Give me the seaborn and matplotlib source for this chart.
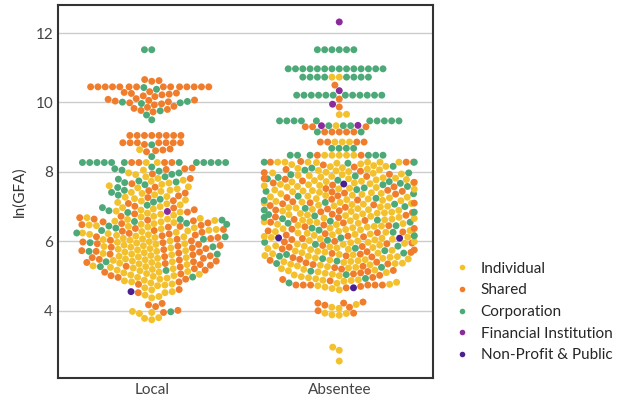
import warnings
import matplotlib
matplotlib.use("Agg")
import matplotlib.pyplot as plt
import pandas as pd
import seaborn as sns

warnings.filterwarnings("ignore")

# ln(GFA) of each property, by owner location and owner type
local_individual = [
    8.27, 8.27, 8.64,
    8.05, 7.97, 7.92, 7.86, 7.81, 7.76, 7.73,
    7.68, 7.64, 7.60, 7.57, 7.54, 7.51, 7.47, 7.44, 7.41,
    7.38, 7.34, 7.29, 7.27, 7.23, 7.19, 7.16, 7.12,
    7.08, 7.05, 7.00, 6.97, 6.93, 6.90, 6.87, 6.84, 6.81,
    6.78, 6.75, 6.72, 6.70, 6.68, 6.66, 6.64, 6.63, 6.60, 6.58, 6.56, 6.54, 6.51,
    6.49, 6.47, 6.45, 6.43, 6.41, 6.39, 6.36, 6.34, 6.32, 6.30, 6.28, 6.26, 6.24, 6.22, 6.20,
    6.19, 6.17, 6.15, 6.13, 6.11, 6.09, 6.07, 6.05, 6.03, 6.01, 5.99, 5.97, 5.95, 5.93, 5.91,
    5.89, 5.87, 5.85, 5.83, 5.81, 5.79, 5.77, 5.75, 5.73, 5.71, 5.69, 5.67, 5.65, 5.63, 5.61,
    5.59, 5.57, 5.55, 5.53, 5.51, 5.49, 5.47, 5.45, 5.43, 5.41, 5.39, 5.37, 5.35, 5.33, 5.31,
    5.29, 5.27, 5.25, 5.23, 5.21, 5.19, 5.17, 5.15, 5.13, 5.11, 5.09, 5.07, 5.05, 5.03, 5.01,
    4.99, 4.96, 4.94, 4.91, 4.88, 4.86, 4.83, 4.80, 4.77, 4.74, 4.72,
    4.66, 4.60, 4.55, 4.52, 4.45, 4.41, 4.37,
    3.98, 3.95, 3.92, 3.80, 3.78, 3.74,
]
local_shared = [
    10.66, 10.63, 10.61,
    10.45, 10.45, 10.45, 10.45, 10.45, 10.45, 10.45,
    10.45, 10.45, 10.45, 10.45, 10.45, 10.45, 10.45,
    10.31, 10.29, 10.27, 10.26, 10.24, 10.22, 10.19, 10.17,
    10.11, 10.09, 10.07, 10.06, 10.04, 10.02, 9.99, 9.96, 9.93,
    9.89, 9.86, 9.83, 9.80, 9.77, 9.73,
    9.05, 9.05, 9.05, 9.05, 9.05, 9.05, 9.05, 9.05,
    8.84, 8.84, 8.84, 8.84, 8.84, 8.84, 8.84, 8.79, 8.66, 8.63, 8.61, 8.58,
    8.27, 8.27, 8.27, 8.27, 8.11, 8.09, 8.07,
    7.94, 7.81, 7.66, 7.56, 7.46, 7.39, 7.31, 7.26, 7.17, 7.09, 7.01, 6.96, 6.91, 6.84, 6.79,
    6.72, 6.68, 6.64, 6.61, 6.59, 6.56, 6.53, 6.51, 6.48, 6.46, 6.43, 6.41,
    6.37, 6.34, 6.31, 6.29, 6.26, 6.23, 6.21, 6.18, 6.16, 6.13, 6.11, 6.08,
    6.06, 6.03, 6.01, 5.98, 5.96, 5.93, 5.91, 5.88, 5.86, 5.83, 5.81, 5.79,
    5.76, 5.73, 5.71, 5.69, 5.66, 5.63, 5.61, 5.58, 5.56, 5.53, 5.51, 5.48,
    5.46, 5.43, 5.41, 5.39, 5.36, 5.33, 5.31, 5.28, 5.26, 5.21, 5.17, 5.11,
    5.06, 5.01, 4.96, 4.91, 4.83, 4.76, 4.61, 4.52, 4.21, 4.17, 4.12, 4.01, 3.95,
]
local_corporation = [
    11.52, 11.52,
    10.43, 10.38, 10.03, 10.01, 9.99, 9.97, 9.76, 9.64, 9.50,
    8.78, 8.44,
    8.27, 8.27, 8.27, 8.27, 8.27, 8.27, 8.27, 8.27, 8.27, 8.27, 8.27, 8.27,
    8.14, 8.09, 8.05, 8.02, 7.97, 7.93, 7.86, 7.79, 7.74, 7.71, 7.69, 7.63,
    7.55, 7.47, 7.41, 7.33, 7.21, 7.13, 7.04, 6.97, 6.88, 6.83,
    6.63, 6.61, 6.57, 6.52, 6.49, 6.44, 6.38, 6.31, 6.24, 6.13, 6.06, 5.96,
    5.84, 5.71, 5.63, 5.41, 5.27, 5.16, 4.97, 3.97,
]
local_financial = [6.86]
local_nonprofit = [4.55]

absentee_individual = [
    10.73, 10.73, 9.66, 9.65, 9.33, 8.86, 8.86, 8.86, 8.48, 8.48, 8.48, 8.48, 8.48,
    8.28, 8.28, 8.28, 8.28, 8.28, 8.28, 8.27, 8.25, 8.23, 8.21, 8.18, 8.16, 8.15, 8.12,
    8.10, 8.08, 8.06, 8.04, 8.03, 8.01,
    7.99, 7.97, 7.96, 7.94, 7.92, 7.90, 7.89, 7.87, 7.85, 7.83, 7.82, 7.80, 7.78, 7.77,
    7.75, 7.73, 7.72, 7.71,
    7.69, 7.68, 7.66, 7.64, 7.63, 7.61, 7.60, 7.58, 7.56, 7.55, 7.53, 7.51, 7.50, 7.48,
    7.46, 7.45, 7.43, 7.41, 7.40,
    7.38, 7.37, 7.35, 7.33, 7.32, 7.30, 7.28, 7.27, 7.25, 7.23, 7.22, 7.20, 7.18, 7.17,
    7.15, 7.13, 7.12, 7.10,
    7.09, 7.07, 7.06, 7.04, 7.02, 7.01, 6.99, 6.97, 6.96, 6.94, 6.92, 6.91, 6.89, 6.87,
    6.86, 6.84, 6.82, 6.81, 6.80,
    6.79, 6.77, 6.76, 6.74, 6.72, 6.71, 6.69, 6.67, 6.66, 6.64, 6.62, 6.61, 6.59, 6.57,
    6.56, 6.54, 6.52, 6.51,
    6.49, 6.48, 6.46, 6.44, 6.43, 6.41, 6.39, 6.38, 6.36, 6.34, 6.33, 6.31, 6.29, 6.28,
    6.26, 6.24, 6.23, 6.21, 6.20,
    6.19, 6.17, 6.16, 6.14, 6.12, 6.11, 6.09, 6.07, 6.06, 6.04, 6.02, 6.01, 5.99, 5.97,
    5.96, 5.94, 5.92, 5.91,
    5.89, 5.87, 5.86, 5.84, 5.82, 5.81, 5.79, 5.77, 5.76, 5.74, 5.72, 5.71, 5.69, 5.67,
    5.66, 5.64, 5.62, 5.61,
    5.59, 5.57, 5.56, 5.54, 5.52, 5.51, 5.49, 5.47, 5.46, 5.44, 5.42, 5.41, 5.39, 5.37,
    5.36, 5.34, 5.32, 5.31,
    5.29, 5.27, 5.25, 5.23, 5.21, 5.19, 5.17, 5.15, 5.12, 5.10, 5.08, 5.05, 5.03, 5.01,
    4.98, 4.95, 4.92, 4.89, 4.88, 4.87, 4.85, 4.82, 4.79, 4.76, 4.72, 4.68, 4.64, 4.60,
    4.18, 4.10, 4.07, 3.93, 3.92, 3.88, 3.87, 2.95, 2.86, 2.55,
]
absentee_shared = [
    10.50, 10.10, 9.87, 9.30, 9.30, 9.30, 9.15, 9.15, 9.15, 9.15, 9.15,
    8.86, 8.86, 8.86, 8.86, 8.48, 8.48,
    8.30, 8.28, 8.28, 8.28, 8.20, 8.14, 8.07, 8.02,
    7.98, 7.93, 7.87, 7.81, 7.79, 7.74, 7.70,
    7.68, 7.62, 7.57, 7.52, 7.47, 7.44, 7.42,
    7.39, 7.36, 7.31, 7.26, 7.21, 7.19, 7.14, 7.11, 7.10,
    7.08, 7.05, 7.03, 6.98, 6.93, 6.90, 6.88, 6.85, 6.83,
    6.78, 6.75, 6.70, 6.68, 6.63, 6.60, 6.55, 6.53,
    6.47, 6.45, 6.42, 6.37, 6.35, 6.30, 6.27, 6.25, 6.22,
    6.18, 6.15, 6.13, 6.08, 6.05, 6.00, 5.98, 5.95, 5.93,
    5.88, 5.85, 5.83, 5.78, 5.75, 5.70, 5.68, 5.65, 5.63,
    5.58, 5.55, 5.53, 5.48, 5.45, 5.40, 5.38, 5.35, 5.33,
    5.28, 5.24, 5.20, 5.16, 5.13, 5.09, 5.06, 5.02,
    4.96, 4.90, 4.86, 4.74, 4.74, 4.74, 4.74, 4.74, 4.74, 4.70, 4.66,
    4.25, 4.22, 4.22, 4.16, 4.10, 4.00, 3.93,
]
absentee_corporation = [
    11.52, 11.52, 11.52, 11.52, 11.52, 11.52,
    10.97, 10.97, 10.97, 10.97, 10.97, 10.97, 10.97,
    10.97, 10.97, 10.97, 10.97, 10.97, 10.97, 10.97,
    10.73, 10.73, 10.73, 10.73, 10.73, 10.73, 10.73, 10.73,
    10.21, 10.21, 10.21, 10.21, 10.21, 10.21, 10.21, 10.21, 10.21, 10.21, 10.21, 10.21,
    9.47, 9.47, 9.47, 9.47, 9.47, 9.47, 9.47, 9.47, 9.47, 9.47,
    9.33, 9.33, 9.33, 9.15, 9.15, 8.68, 8.68, 8.68, 8.68,
    8.48, 8.48, 8.48, 8.48, 8.48, 8.48,
    8.28, 8.28, 8.25, 8.16, 8.11, 8.05,
    7.97, 7.92, 7.88, 7.84, 7.80, 7.76, 7.72,
    7.67, 7.63, 7.58, 7.54, 7.49, 7.44,
    7.37, 7.30, 7.24, 7.18, 7.12,
    7.07, 7.00, 6.95, 6.90, 6.84,
    6.77, 6.73, 6.69, 6.65, 6.61, 6.58, 6.55, 6.52,
    6.45, 6.38, 6.32, 6.26,
    6.16, 6.10, 6.03, 5.97, 5.91,
    5.86, 5.80, 5.73, 5.66, 5.62,
    5.57, 5.50, 5.43, 5.36,
    5.25, 5.14, 5.04, 4.93, 4.80,
]
absentee_financial = [12.32, 10.34, 9.95, 9.34, 9.33]
absentee_nonprofit = [7.65, 6.10, 6.09, 4.66]

locations = ["Local", "Absentee"]
owner_types = ["Individual", "Shared", "Corporation",
               "Financial Institution", "Non-Profit & Public"]
colors = ["#F4C12E", "#F07D2C", "#4DAA78", "#8B2A9D", "#4A2090"]

series = {
    ("Local", "Individual"): local_individual,
    ("Local", "Shared"): local_shared,
    ("Local", "Corporation"): local_corporation,
    ("Local", "Financial Institution"): local_financial,
    ("Local", "Non-Profit & Public"): local_nonprofit,
    ("Absentee", "Individual"): absentee_individual,
    ("Absentee", "Shared"): absentee_shared,
    ("Absentee", "Corporation"): absentee_corporation,
    ("Absentee", "Financial Institution"): absentee_financial,
    ("Absentee", "Non-Profit & Public"): absentee_nonprofit,
}
rows = [(loc, own, v) for (loc, own), vals in series.items() for v in vals]
df = pd.DataFrame(rows, columns=["location", "owner", "lnGFA"])
# interleave owner types so no single colour sits on top of the swarm
df = df.sort_values("lnGFA", kind="stable").reset_index(drop=True)

sns.set_theme(style="whitegrid")
plt.rcParams["font.family"] = ["Lato", "DejaVu Sans"]

fig = plt.figure(figsize=(6.19, 4.09), dpi=100)
ax = fig.add_axes([58 / 619, 31 / 409, 375 / 619, 373 / 409])

sns.swarmplot(data=df, x="location", y="lnGFA", hue="owner",
              order=locations, hue_order=owner_types,
              palette=dict(zip(owner_types, colors)), size=5, ax=ax)

ax.set_xlabel("")
ax.set_ylabel("ln(GFA)", fontsize=11, color="#333333", labelpad=6)
ax.set_yticks([4, 6, 8, 10, 12])
ax.tick_params(axis="both", labelsize=11, colors="#444444", length=0)
ax.yaxis.grid(True, color="#cccccc", linewidth=1.0)
ax.xaxis.grid(False)
for sp in ax.spines.values():
    sp.set_color("#333333")
    sp.set_linewidth(1.5)

sns.move_legend(ax, "center left", bbox_to_anchor=(1.019, 0.177),
                title=None, frameon=False, fontsize=11,
                handlelength=1.0, handletextpad=0.75, labelspacing=0.5,
                markerscale=0.8)

fig.savefig("out.png", dpi=100)
